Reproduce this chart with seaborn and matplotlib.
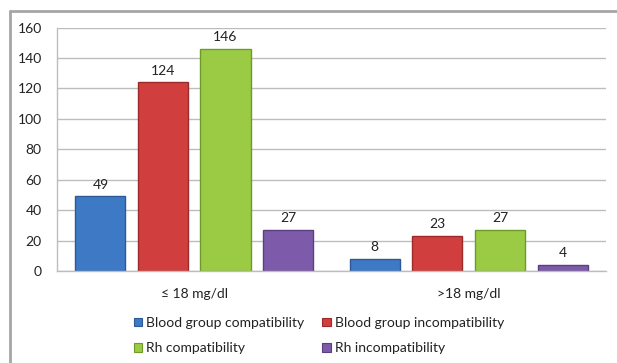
import matplotlib
matplotlib.use("Agg")
import matplotlib.pyplot as plt
from matplotlib.lines import Line2D
from matplotlib.patches import Patch
import seaborn as sns
import pandas as pd

groups = ["\u2264 18 mg/dl", ">18 mg/dl"]
series = [
    "Blood group compatibility",
    "Blood group incompatibility",
    "Rh compatibility",
    "Rh incompatibility",
]
values = {
    "Blood group compatibility": [49, 8],
    "Blood group incompatibility": [124, 23],
    "Rh compatibility": [146, 27],
    "Rh incompatibility": [27, 4],
}
y_ticks = [0, 20, 40, 60, 80, 100, 120, 140, 160]

colors = ["#3E79C6", "#D03F3E", "#9BCB44", "#7E5BAA"]
edges = ["#2D5A96", "#9A2B2A", "#6F9A2A", "#5A3F80"]

rows = []
for s in series:
    for g, v in zip(groups, values[s]):
        rows.append({"group": g, "series": s, "value": v})
df = pd.DataFrame(rows)

sns.set_style("white")
plt.rcParams["font.family"] = ["Lato", "DejaVu Sans"]

fig = plt.figure(figsize=(6.17, 3.63), dpi=100)
ax = fig.add_axes([0.0924, 0.2534, 0.8896, 0.6706])

sns.barplot(
    data=df, x="group", y="value", hue="series",
    order=groups, hue_order=series, palette=colors,
    width=0.912, gap=0.2, saturation=1, ax=ax, legend=False,
    errorbar=None,
)

for cont, ec in zip(ax.containers, edges):
    for bar in cont:
        bar.set_edgecolor(ec)
        bar.set_linewidth(1.0)
    ax.bar_label(cont, fmt="%d", padding=4, fontsize=10, color="#222222")

ax.set_ylim(0, 160)
ax.set_yticks(y_ticks)
ax.yaxis.grid(True, color="#BDBDBD", linewidth=1)
ax.set_axisbelow(True)
ax.set_xlabel("")
ax.set_ylabel("")
ax.tick_params(axis="both", length=0, labelsize=10, colors="#222222")
ax.tick_params(axis="y", pad=11)
ax.tick_params(axis="x", pad=12)
for side in ["top", "right"]:
    ax.spines[side].set_visible(False)
for side in ["left", "bottom"]:
    ax.spines[side].set_color("#BDBDBD")
    ax.spines[side].set_linewidth(1)

handles = [Patch(facecolor=c, edgecolor=e, linewidth=0.8) for c, e in zip(colors, edges)]
order = [0, 2, 1, 3]
fig.legend(
    [handles[i] for i in order], [series[i] for i in order],
    ncol=2, loc="center", bbox_to_anchor=(0.517, 0.076), frameon=False,
    fontsize=10, handlelength=0.6, handleheight=0.6, handletextpad=0.3,
    columnspacing=1.3, labelspacing=0.95, labelcolor="#222222",
)

# outer chart frame (left and top edges)
fig.add_artist(Line2D([10 / 617, 10 / 617], [0, 1 - 11 / 363], color="#A6A6A6", lw=2,
                      transform=fig.transFigure))
fig.add_artist(Line2D([10 / 617, 1], [1 - 11 / 363, 1 - 11 / 363], color="#A6A6A6", lw=2,
                      transform=fig.transFigure))

fig.savefig("out.png", dpi=100, facecolor="white")
